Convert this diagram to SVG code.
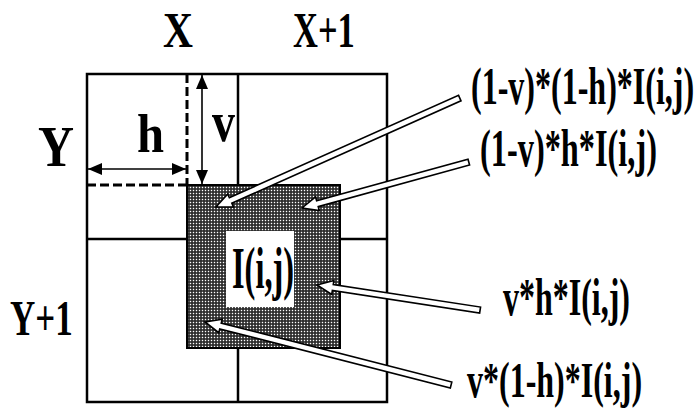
<svg xmlns="http://www.w3.org/2000/svg" width="697" height="410" viewBox="0 0 697 410">
<style>
.grid{fill:none;stroke:#000;stroke-width:2.5}
.dash{fill:none;stroke:#000;stroke-width:3;stroke-dasharray:9 4}
.dim{fill:none;stroke:#000;stroke-width:1.6;marker-start:url(#ah);marker-end:url(#ah)}
.t{font-family:'Liberation Serif','Times New Roman',serif;font-weight:bold;fill:#000}
.arrow{fill:#fff;stroke:#000;stroke-width:1.6;stroke-linejoin:miter}
</style>
<defs>
<pattern id="dots" width="3" height="3" patternUnits="userSpaceOnUse">
<rect width="3" height="3" fill="#262626"/>
<rect x="0.8" y="0.8" width="1.4" height="1.4" fill="#fff"/>
</pattern>
<marker id="ah" viewBox="0 0 14 12" refX="14" refY="6" markerWidth="14" markerHeight="12" markerUnits="userSpaceOnUse" orient="auto-start-reverse">
<path d="M0,0 L14,6 L0,12 Z" fill="#000"/>
</marker>
</defs>
<g id="grid">
<rect class="grid" x="87" y="74" width="300" height="328"/>
<line class="grid" x1="238" y1="74" x2="238" y2="402"/>
<line class="grid" x1="87" y1="239" x2="387" y2="239"/>
</g>
<g id="offsets">
<line class="dash" x1="187" y1="74" x2="187" y2="185"/>
<line class="dash" x1="87" y1="185" x2="187" y2="185"/>
<line class="dim" x1="88" y1="169" x2="186" y2="169"/>
<line class="dim" x1="202" y1="75" x2="202" y2="184"/>
<text class="t" transform="translate(137,152) scale(0.9,1)" font-size="54">h</text>
<text class="t" transform="translate(212,141) scale(0.82,1)" font-size="56">v</text>
</g>
<g id="pixel">
<rect x="187" y="185" width="153" height="163" fill="url(#dots)" stroke="#000" stroke-width="2"/>
<rect x="226" y="231" width="68" height="76" fill="#fff"/>
<text class="t" transform="translate(232,288) scale(0.54,1)" font-size="60">I(i,j)</text>
</g>
<g id="axis-labels">
<text class="t" transform="translate(163,47) scale(0.83,1)" font-size="50">X</text>
<text class="t" transform="translate(293,47) scale(0.69,1)" font-size="50">X+1</text>
<text class="t" transform="translate(38,166) scale(0.89,1)" font-size="56">Y</text>
<text class="t" transform="translate(10,335) scale(0.70,1)" font-size="50">Y+1</text>
</g>
<g id="connectors">
<polygon class="arrow" transform="translate(216,207) rotate(-24.07)" points="0,0 16,-7 16,-3 267,-3 267,3 16,3 16,7"/>
<polygon class="arrow" transform="translate(302,208) rotate(-15.4)" points="0,0 16,-7 16,-3 173,-3 173,3 16,3 16,7"/>
<polygon class="arrow" transform="translate(317,285) rotate(8.72)" points="0,0 16,-7 16,-3 165,-3 165,3 16,3 16,7"/>
<polygon class="arrow" transform="translate(205,322) rotate(14.36)" points="0,0 16,-7 16,-3 254,-3 254,3 16,3 16,7"/>
</g>
<g id="labels">
<text class="t" transform="translate(471,104) scale(0.616,1)" font-size="52">(1-v)*(1-h)*I(i,j)</text>
<text class="t" transform="translate(480,166) scale(0.622,1)" font-size="52">(1-v)*h*I(i,j)</text>
<text class="t" transform="translate(503,315) scale(0.615,1)" font-size="52">v*h*I(i,j)</text>
<text class="t" transform="translate(467,397) scale(0.64,1)" font-size="50">v*(1-h)*I(i,j)</text>
</g>
</svg>
